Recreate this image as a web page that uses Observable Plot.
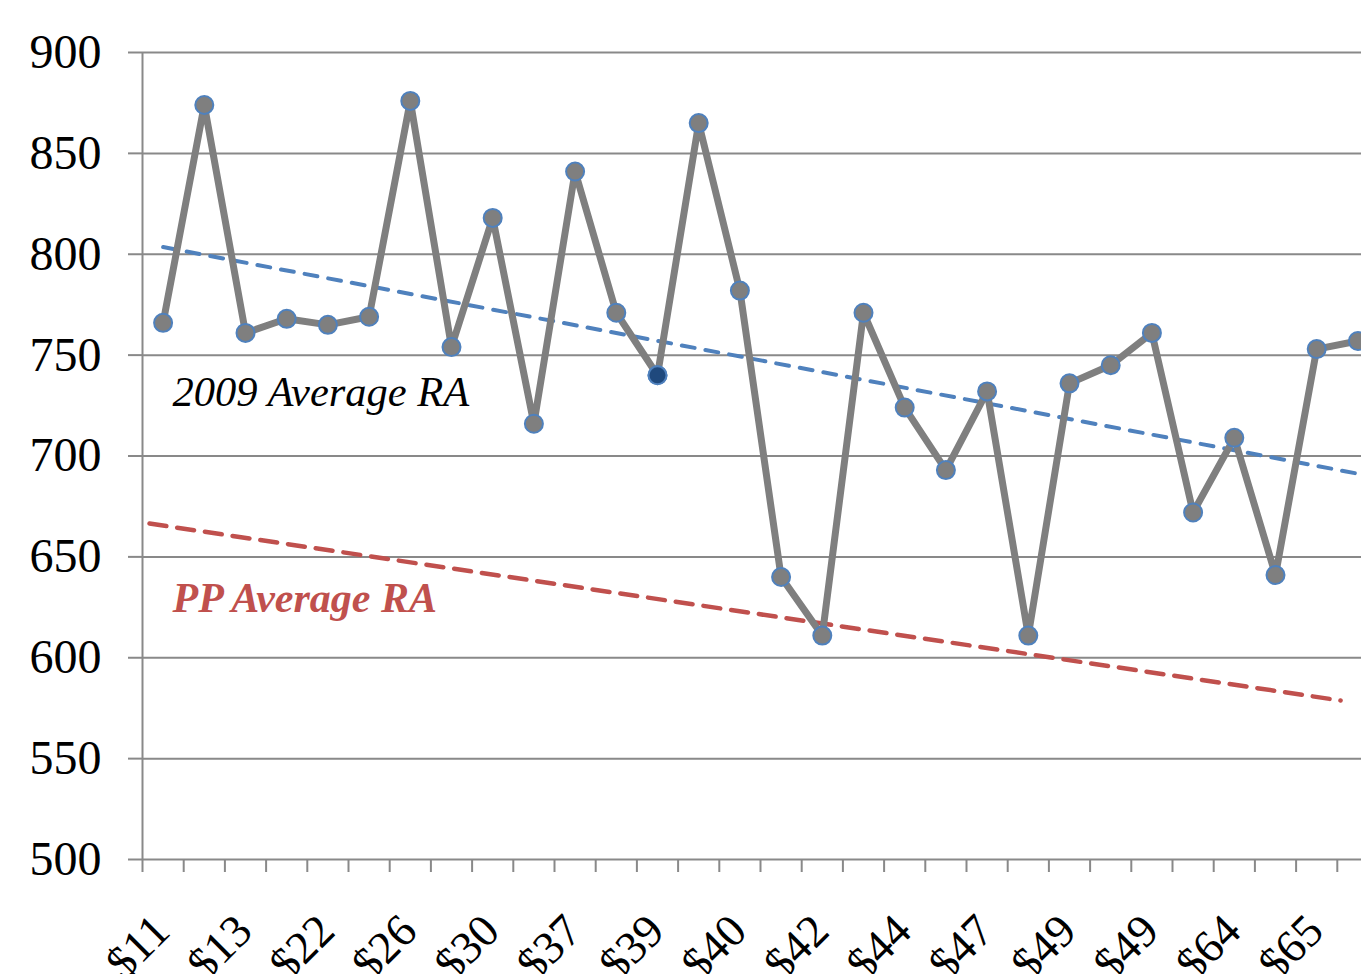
<!DOCTYPE html>
<html>
<head>
<meta charset="utf-8">
<script src="https://cdn.jsdelivr.net/npm/d3@7"></script>
<script src="https://cdn.jsdelivr.net/npm/@observablehq/plot@0.6"></script>
<style>
  html, body { margin: 0; padding: 0; background: #fff; overflow: hidden; }
  #chart svg { display: block; max-width: none; }
</style>
</head>
<body>
<div id="chart"></div>
<script>
// ---- data ----
const tickLabels = ["$11", "$13", "$22", "$26", "$30", "$37", "$39", "$40", "$42", "$44", "$47", "$49", "$49", "$64", "$65"];
const tickPositions = [1, 3, 5, 7, 9, 11, 13, 15, 17, 19, 21, 23, 25, 27, 29];
const raValues = [766, 874, 761, 768, 765, 769, 876, 754, 818, 716, 841, 771, 740, 865, 782,
                  640, 611, 771, 724, 693, 732, 611, 736, 745, 761, 672, 709, 641, 753, 757];
const highlightIndex = [13];
const yTicks = [500, 550, 600, 650, 700, 750, 800, 850, 900];
const ppAverageI = [0.67, 29.58];
const ppAverageV = [666.5, 578.8];
const label2009 = {i: 1.23, v: 725, text: "2009 Average RA"};
const labelPP = {i: 1.23, v: 622.9, text: "PP Average RA"};

// ---- derived tables ----
const series = raValues.map((v, k) => ({i: k + 1, v, hi: highlightIndex.includes(k + 1)}));
const ppLine = ppAverageI.map((i, k) => ({i, v: ppAverageV[k]}));
const boundaries = d3.range(0, raValues.length + 1).map(k => k + 0.5);
const xLabelData = tickLabels.map((label, k) => ({i: tickPositions[k], label}));

const gray = "#898989";
const serif = "'Liberation Serif', 'Times New Roman', serif";

const chart = Plot.plot({
  width: 1361,
  height: 974,
  marginLeft: 142,
  marginRight: 0,
  marginTop: 52,
  marginBottom: 115,
  style: {fontFamily: serif, background: "#fff", color: "#000"},
  x: {type: "linear", domain: [0.5, raValues.length + 0.5], range: [142, 142 + 41.2 * raValues.length]},
  y: {domain: [500, 900]},
  marks: [
    Plot.gridY(yTicks, {stroke: gray, strokeOpacity: 1, strokeWidth: 2}),
    Plot.axisY(yTicks, {tickSize: 14, tickPadding: 27, fontSize: 48, stroke: gray, strokeWidth: 2, fill: "#000", label: null}),
    Plot.ruleX([boundaries[0]], {stroke: gray, strokeWidth: 2}),
    Plot.axisX(boundaries, {tickSize: 13, tickFormat: () => "", stroke: gray, strokeWidth: 2, label: null}),
    Plot.text(xLabelData, {x: "i", text: "label", frameAnchor: "bottom", dx: 9, dy: 74, rotate: -45,
      textAnchor: "end", lineAnchor: "bottom", fontSize: 46, fill: "#000"}),
    Plot.line(ppLine, {x: "i", y: "v", stroke: "#C0504D", strokeWidth: 4.5, strokeDasharray: "17,11"}),
    Plot.linearRegressionY(series, {x: "i", y: "v", stroke: "#4F81BD", strokeWidth: 4, strokeDasharray: "13,11", ci: 0}),
    Plot.line(series, {x: "i", y: "v", stroke: "#7F7F7F", strokeWidth: 7, strokeLinejoin: "round"}),
    Plot.dot(series, {x: "i", y: "v", r: 9, fill: "#7F7F7F", stroke: "#4F81BD", strokeWidth: 2}),
    Plot.dot(series.filter(d => d.hi), {x: "i", y: "v", r: 9, fill: "#1F497D", stroke: "#4F81BD", strokeWidth: 2}),
    Plot.text([label2009], {x: "i", y: "v", text: "text", textAnchor: "start", lineAnchor: "bottom",
      fontSize: 42.5, fontStyle: "italic", fill: "#000"}),
    Plot.text([labelPP], {x: "i", y: "v", text: "text", textAnchor: "start", lineAnchor: "bottom",
      fontSize: 42, fontStyle: "italic", fontWeight: "bold", fill: "#C0504D"})
  ]
});
document.getElementById("chart").appendChild(chart);
</script>
</body>
</html>
